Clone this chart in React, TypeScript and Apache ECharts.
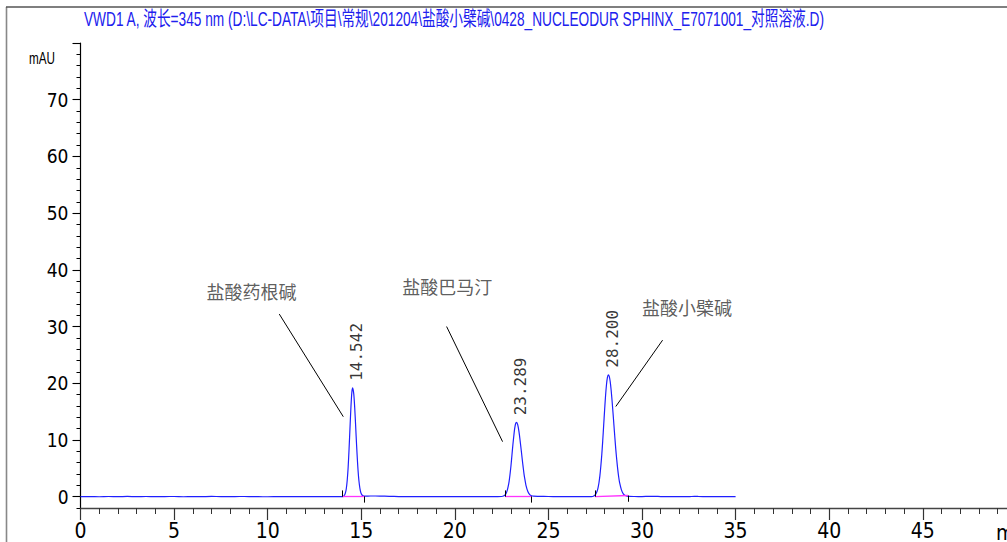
import React, { useEffect, useRef } from "react";
import * as echarts from "echarts";

// ---------- texts ----------
const TITLE =
  "VWD1 A, 波长=345 nm (D:\\LC-DATA\\项目\\常规\\201204\\盐酸小檗碱\\0428_NUCLEODUR SPHINX_E7071001_对照溶液.D)";
const Y_UNIT = "mAU";
const X_UNIT = "min";

// ---------- axes ----------
const X_MIN = 0;
const X_MAX = 49.5;
const X_MAJOR = 5;
const X_MINOR = 1;
const Y_MIN = -2;
const Y_MAX = 80;
const Y_MINOR = 2;
const Y_MAJOR_TICKS = [0, 10, 20, 30, 40, 50, 60, 70, 80];
const Y_TICK_LABELS = [0, 10, 20, 30, 40, 50, 60, 70];

// ---------- chromatogram trace (time min, signal mAU) ----------
const baselineA: [number, number][] = [
  [0, 0], [0.5, 0.02], [1, -0.02], [1.5, 0.03], [2, 0], [2.5, 0.04], [3, -0.01], [3.5, 0.03],
  [4, 0], [4.5, 0.02], [5, 0.03], [5.5, -0.02], [6, 0], [6.5, 0.01], [7, 0.04], [7.5, 0.02],
  [8, -0.01], [8.5, 0.03], [9, 0.02], [9.5, 0], [10, -0.02], [10.5, 0.01], [11, 0.03],
  [11.5, 0.01], [12, -0.01], [12.5, 0], [13, 0.01], [13.5, 0.03], [14, 0.01],
];
const peak1Trace: [number, number][] = [
  [14.05, 0.08], [14.1, 0.25], [14.15, 0.63], [14.2, 1.4], [14.25, 2.9], [14.3, 5.2],
  [14.35, 8.5], [14.4, 12.3], [14.45, 15.9], [14.5, 18.5], [14.542, 19.2], [14.6, 18.1],
  [14.65, 15.7], [14.7, 12.5], [14.75, 9.1], [14.8, 6.1], [14.85, 3.7], [14.9, 2.1],
  [14.95, 1.08], [15, 0.5], [15.05, 0.25], [15.1, 0.15], [15.2, 0.1],
];
const baselineB: [number, number][] = [
  [15.5, 0.12], [16, 0.1], [16.5, 0.06], [17, 0.02], [17.5, 0], [18, 0.01], [18.5, -0.01],
  [19, 0.01], [19.5, 0], [20, 0.01], [20.5, 0], [21, -0.01], [21.5, 0.01], [22, 0], [22.5, 0.03],
];
const peak2Trace: [number, number][] = [
  [22.6, 0.1], [22.7, 0.37], [22.75, 0.65], [22.8, 1.1], [22.85, 1.8], [22.9, 2.7],
  [22.95, 4.0], [23, 5.5], [23.05, 7.3], [23.1, 9.1], [23.15, 10.7], [23.2, 12.1],
  [23.25, 12.9], [23.289, 13.1], [23.35, 12.8], [23.4, 12.0], [23.45, 10.9], [23.5, 9.5],
  [23.55, 8.1], [23.6, 6.6], [23.65, 5.2], [23.7, 3.9], [23.75, 2.9], [23.8, 2.0],
  [23.9, 0.9], [24, 0.36], [24.1, 0.15], [24.2, 0.08],
];
const baselineC: [number, number][] = [
  [24.5, 0.06], [25, 0.03], [25.5, 0.01], [26, 0], [26.5, 0.01], [27, 0], [27.3, 0.02],
];
const peak3Trace: [number, number][] = [
  [27.4, 0.08], [27.5, 0.3], [27.6, 0.95], [27.65, 1.55], [27.7, 2.45], [27.75, 3.7],
  [27.8, 5.4], [27.85, 7.4], [27.9, 9.8], [27.95, 12.5], [28, 15.2], [28.05, 17.7],
  [28.1, 19.7], [28.15, 21.0], [28.2, 21.5], [28.25, 21.2], [28.3, 20.3], [28.35, 18.8],
  [28.4, 16.9], [28.45, 14.8], [28.5, 12.6], [28.55, 10.4], [28.6, 8.3], [28.65, 6.5],
  [28.7, 4.9], [28.75, 3.55], [28.8, 2.5], [28.9, 1.2], [29, 0.5], [29.1, 0.2],
  [29.2, 0.1], [29.3, 0.05],
];
const baselineD: [number, number][] = [
  [29.6, 0.03], [30, 0.02], [30.4, 0.06], [30.7, 0.05], [31, 0.02], [31.5, 0], [32, 0.01],
  [32.5, 0], [32.8, 0.06], [33, 0.04], [33.5, 0.01], [34, 0], [34.5, 0.01], [35, 0],
];

// ---------- peaks ----------
const peakRT = [14.542, 23.289, 28.2];
const peakHeight = [19.2, 13.1, 21.5];
const integStart: [number, number][] = [[14.0, 0.0], [22.68, 0.0], [27.48, 0.0]];
const integEnd: [number, number][] = [[15.16, 0.05], [24.1, 0.05], [29.25, 0.2]];
const INTEG_TICK = 1.1; // mAU

// ---------- compound annotations ----------
const compoundNames = ["盐酸药根碱", "盐酸巴马汀", "盐酸小檗碱"];
const namePos: [number, number][] = [[9.13, 36.3], [19.6, 37.15], [32.4, 33.5]];
const leaderFrom: [number, number][] = [[10.62, 32.2], [19.56, 30.0], [31.1, 27.6]];
const leaderTo: [number, number][] = [[14.04, 14.1], [22.55, 9.7], [28.6, 15.9]];

const NARROW =
  "'Liberation Sans Narrow', 'Arial Narrow', 'DejaVu Sans Condensed', 'Liberation Sans', sans-serif";
const SANS = "'Liberation Sans', 'Noto Sans CJK SC', sans-serif";

function measure(text: string, font: string): number {
  const ctx = document.createElement("canvas").getContext("2d");
  if (!ctx) return 0;
  ctx.font = font;
  return ctx.measureText(text).width;
}

export default function App() {
  const ref = useRef<HTMLDivElement>(null);

  useEffect(() => {
    document.body.style.margin = "0";
    if (!ref.current) return;
    const chart = echarts.init(ref.current, null, { renderer: "svg" });

    const trace = [
      ...baselineA, ...peak1Trace, ...baselineB, ...peak2Trace,
      ...baselineC, ...peak3Trace, ...baselineD,
    ];

    const markLines: any[] = [];
    integStart.forEach((s, i) => {
      const e = integEnd[i];
      markLines.push([
        { coord: s, lineStyle: { color: "#ff33ff", width: 1.3, type: "solid" } },
        { coord: e },
      ]);
      markLines.push([
        { coord: s, lineStyle: { color: "#000", width: 1, type: "solid" } },
        { coord: [s[0], s[1] + INTEG_TICK] },
      ]);
      markLines.push([
        { coord: e, lineStyle: { color: "#000", width: 1, type: "solid" } },
        { coord: [e[0], e[1] - INTEG_TICK] },
      ]);
    });
    leaderFrom.forEach((f, i) => {
      markLines.push([
        { coord: f, lineStyle: { color: "#000", width: 1, type: "solid" } },
        { coord: leaderTo[i] },
      ]);
    });

    const titleFont = `20px ${SANS}`;
    const titleW = measure(TITLE, titleFont) || 1;
    const titleScale = 741 / titleW;
    const unitFont = `16px ${SANS}`;
    const unitW = measure(Y_UNIT, unitFont) || 1;
    const unitScale = 26 / unitW;

    const option: any = {
      animation: false,
      backgroundColor: "#ffffff",
      grid: { left: 80.5, right: 0, top: 43, bottom: 34, containLabel: false },
      xAxis: [
        {
          type: "value",
          position: "bottom",
          min: X_MIN,
          max: X_MAX,
          interval: X_MAJOR,
          axisLine: { show: true, onZero: false, lineStyle: { color: "#444", width: 1.3 } },
          axisTick: { show: true, length: 12, lineStyle: { color: "#333", width: 1.2 } },
          axisLabel: {
            show: true,
            margin: 12,
            color: "#000",
            fontFamily: NARROW,
            fontSize: 21,
            showMaxLabel: false,
          },
          splitLine: { show: false },
        },
        {
          type: "value",
          position: "bottom",
          min: X_MIN,
          max: X_MAX,
          interval: X_MINOR,
          axisLine: { show: false, onZero: false },
          axisTick: { show: true, length: 6, lineStyle: { color: "#333", width: 1 } },
          axisLabel: { show: false },
          splitLine: { show: false },
        },
      ],
      yAxis: [
        {
          type: "value",
          position: "left",
          min: Y_MIN,
          max: Y_MAX,
          axisLine: { show: true, onZero: false, lineStyle: { color: "#000", width: 1.2 } },
          axisTick: {
            show: true,
            length: 8,
            customValues: Y_MAJOR_TICKS,
            lineStyle: { color: "#000", width: 1.1 },
          },
          axisLabel: {
            show: true,
            customValues: Y_TICK_LABELS,
            margin: 12,
            color: "#000",
            fontFamily: NARROW,
            fontSize: 19,
          },
          splitLine: { show: false },
        },
        {
          type: "value",
          position: "left",
          min: Y_MIN,
          max: Y_MAX,
          interval: Y_MINOR,
          axisLine: { show: false, onZero: false },
          axisTick: { show: true, length: 4, lineStyle: { color: "#000", width: 1 } },
          axisLabel: { show: false },
          splitLine: { show: false },
        },
      ],
      series: [
        {
          type: "line",
          name: "VWD1 A",
          xAxisIndex: 0,
          yAxisIndex: 0,
          data: trace,
          showSymbol: false,
          symbol: "none",
          smooth: 0.25,
          lineStyle: { color: "#1f1fff", width: 1.2 },
          silent: true,
          markLine: {
            silent: true,
            symbol: ["none", "none"],
            label: { show: false },
            emphasis: { disabled: true },
            data: markLines,
          },
          z: 3,
        },
        {
          type: "scatter",
          name: "retention",
          xAxisIndex: 0,
          yAxisIndex: 0,
          data: peakRT.map((rt, i) => [rt, peakHeight[i]]),
          symbolSize: 0,
          itemStyle: { color: "transparent" },
          silent: true,
          label: {
            show: true,
            position: "top",
            distance: 7,
            rotate: 90,
            align: "left",
            verticalAlign: "middle",
            offset: [0, 4],
            formatter: (p: any) => Number(p.value[0]).toFixed(3),
            fontFamily: "'DejaVu Sans Mono', 'Liberation Mono', monospace",
            fontSize: 16,
            color: "#000",
          },
          z: 4,
        },
        {
          type: "scatter",
          name: "compounds",
          xAxisIndex: 0,
          yAxisIndex: 0,
          data: namePos.map((p, i) => ({ value: p, name: compoundNames[i] })),
          symbolSize: 0,
          itemStyle: { color: "transparent" },
          silent: true,
          label: {
            show: true,
            position: "inside",
            formatter: (p: any) => p.name,
            fontFamily: "'Noto Sans CJK SC', sans-serif",
            fontSize: 18,
            color: "#333",
          },
          z: 4,
        },
      ],
      graphic: [
        {
          type: "line",
          silent: true,
          shape: { x1: 6.5, y1: 7, x2: 6.5, y2: 542 },
          style: { stroke: "#888", lineWidth: 1.6 },
        },
        {
          type: "line",
          silent: true,
          shape: { x1: 6, y1: 7, x2: 1007, y2: 7 },
          style: { stroke: "#555", lineWidth: 1.6 },
        },
        {
          type: "text",
          silent: true,
          x: 84,
          y: 18.5,
          scaleX: titleScale,
          style: {
            text: TITLE,
            font: titleFont,
            fill: "#2020ee",
            align: "left",
            verticalAlign: "middle",
          },
        },
        {
          type: "text",
          silent: true,
          x: 29,
          y: 58.5,
          scaleX: unitScale,
          style: {
            text: Y_UNIT,
            font: unitFont,
            fill: "#000",
            align: "left",
            verticalAlign: "middle",
          },
        },
        {
          type: "text",
          silent: true,
          x: 996,
          y: 533,
          style: {
            text: X_UNIT,
            font: `21px ${NARROW}`,
            fill: "#000",
            align: "left",
            verticalAlign: "middle",
          },
        },
      ],
    };

    chart.setOption(option);
    return () => chart.dispose();
  }, []);

  return <div ref={ref} style={{ width: 1007, height: 542, background: "#fff" }} />;
}
